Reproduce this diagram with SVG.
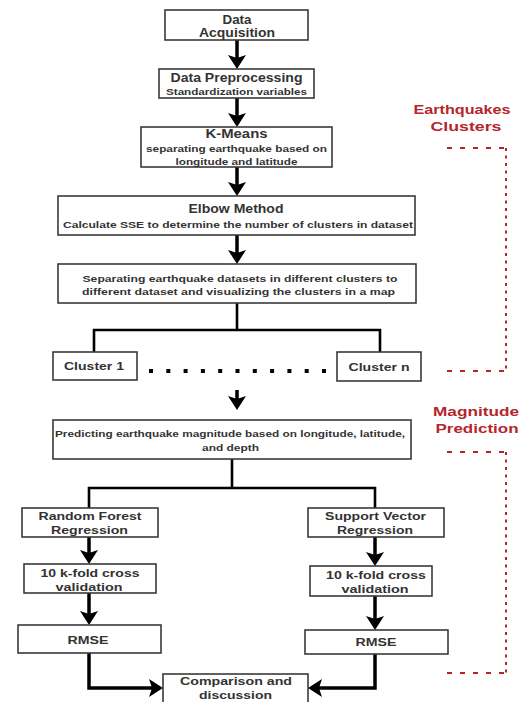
<svg xmlns="http://www.w3.org/2000/svg" width="527" height="702" viewBox="0 0 527 702">
<style>
.box{fill:#fff;stroke:#3a3a3a;stroke-width:1.6}
.t{font-family:"Liberation Sans",Arial,sans-serif;font-weight:bold;fill:#333;text-anchor:middle}
.h{font-size:12.5px}
.s{font-size:9.5px}
.m{font-size:11.5px}
.red{font-family:"Liberation Sans",Arial,sans-serif;font-weight:bold;fill:#b5262c;text-anchor:middle;font-size:12.5px}
.c{fill:none;stroke:#000;stroke-width:3.5}
.c2{fill:none;stroke:#000;stroke-width:2.6}
.ar{marker-end:url(#ah)}
.rdh{fill:none;stroke:#b5262c;stroke-width:2;stroke-dasharray:5 8}
.rdv{fill:none;stroke:#b5262c;stroke-width:2;stroke-dasharray:3 4.5}
</style>
<defs>
<marker id="ah" markerUnits="userSpaceOnUse" viewBox="0 0 14 18" refX="6" refY="9" markerWidth="14" markerHeight="18" orient="auto">
<path d="M0,0 L14,9 L0,18 L3,9 Z" fill="#000"/>
</marker>
</defs>
<g id="connectors">
<line class="c ar" x1="237" y1="40" x2="237" y2="61"/>
<line class="c ar" x1="237" y1="98" x2="237" y2="119"/>
<line class="c ar" x1="237" y1="167" x2="237" y2="188"/>
<line class="c ar" x1="237" y1="235" x2="237" y2="256"/>
<line class="c2" x1="237" y1="303" x2="237" y2="330"/>
<polyline class="c2" points="94,352 94,330 380,330 380,352"/>
<line x1="149" y1="371" x2="327" y2="371" stroke="#000" stroke-width="4" stroke-dasharray="4 13.3"/>
<line class="c ar" x1="237" y1="390" x2="237" y2="402"/>
<line class="c2" x1="232" y1="459" x2="232" y2="488"/>
<polyline class="c2" points="89,508 89,488 375,488 375,508"/>
<line class="c ar" x1="89" y1="537" x2="89" y2="556"/>
<line class="c ar" x1="89" y1="593" x2="89" y2="617"/>
<line class="c ar" x1="375" y1="537" x2="375" y2="558"/>
<line class="c ar" x1="375" y1="596" x2="375" y2="622"/>
<polyline class="c ar" points="89,653 89,688 155,688"/>
<polyline class="c ar" points="375,654 375,688 316,688"/>
</g>
<g id="acq"><rect class="box" x="165" y="10" width="143" height="30"/>
<text class="t h" x="237" y="23.5" textLength="29" lengthAdjust="spacingAndGlyphs">Data</text>
<text class="t h" x="237" y="36.5" textLength="76" lengthAdjust="spacingAndGlyphs">Acquisition</text></g>
<g id="prep"><rect class="box" x="159" y="69" width="155" height="29"/>
<text class="t h" x="236.5" y="82" textLength="132" lengthAdjust="spacingAndGlyphs">Data Preprocessing</text>
<text class="t s" x="236.5" y="95" textLength="141" lengthAdjust="spacingAndGlyphs">Standardization variables</text></g>
<g id="kmeans"><rect class="box" x="141" y="127" width="191" height="40"/>
<text class="t h" x="236.5" y="137.5" textLength="62" lengthAdjust="spacingAndGlyphs">K-Means</text>
<text class="t s" x="236.5" y="152" textLength="181" lengthAdjust="spacingAndGlyphs">separating earthquake based on</text>
<text class="t s" x="236.5" y="164.5" textLength="122" lengthAdjust="spacingAndGlyphs">longitude and latitude</text></g>
<g id="elbow"><rect class="box" x="58" y="196" width="357" height="39"/>
<text class="t h" x="236" y="213" textLength="95" lengthAdjust="spacingAndGlyphs">Elbow Method</text>
<text class="t s" x="238" y="227.5" textLength="350" lengthAdjust="spacingAndGlyphs">Calculate SSE to determine the number of clusters in dataset</text></g>
<g id="separate"><rect class="box" x="58" y="264" width="358" height="39"/>
<text class="t s" x="240" y="281.5" textLength="315" lengthAdjust="spacingAndGlyphs">Separating earthquake datasets in different clusters to</text>
<text class="t s" x="238.5" y="295" textLength="313" lengthAdjust="spacingAndGlyphs">different dataset and visualizing the clusters in a map</text></g>
<g id="cluster1"><rect class="box" x="53" y="352" width="84" height="28"/>
<text class="t m" x="94" y="370" textLength="60" lengthAdjust="spacingAndGlyphs">Cluster 1</text></g>
<g id="clustern"><rect class="box" x="337" y="352" width="84" height="29"/>
<text class="t m" x="379" y="370.5" textLength="61" lengthAdjust="spacingAndGlyphs">Cluster n</text></g>
<g id="predict"><rect class="box" x="53" y="420" width="358" height="39"/>
<text class="t" font-size="9" x="230" y="436.5" textLength="350" lengthAdjust="spacingAndGlyphs">Predicting earthquake magnitude based on longitude, latitude,</text>
<text class="t" font-size="9" x="230.5" y="450.5" textLength="57" lengthAdjust="spacingAndGlyphs">and depth</text></g>
<g id="rf"><rect class="box" x="22" y="508" width="136" height="29"/>
<text class="t m" x="90" y="520" textLength="103" lengthAdjust="spacingAndGlyphs">Random Forest</text>
<text class="t m" x="89.5" y="533.5" textLength="77" lengthAdjust="spacingAndGlyphs">Regression</text></g>
<g id="svr"><rect class="box" x="308" y="508" width="136" height="29"/>
<text class="t m" x="375.5" y="520" textLength="101" lengthAdjust="spacingAndGlyphs">Support Vector</text>
<text class="t m" x="375" y="533.5" textLength="76" lengthAdjust="spacingAndGlyphs">Regression</text></g>
<g id="kfold1"><rect class="box" x="24" y="564" width="132" height="29"/>
<text class="t m" x="90" y="577" textLength="99" lengthAdjust="spacingAndGlyphs">10 k-fold cross</text>
<text class="t m" x="89" y="590.5" textLength="67" lengthAdjust="spacingAndGlyphs">validation</text></g>
<g id="kfold2"><rect class="box" x="310" y="566" width="122" height="30"/>
<text class="t m" x="376" y="579" textLength="100" lengthAdjust="spacingAndGlyphs">10 k-fold cross</text>
<text class="t m" x="375" y="592.5" textLength="67" lengthAdjust="spacingAndGlyphs">validation</text></g>
<g id="rmse1"><rect class="box" x="18" y="625" width="143" height="28"/>
<text class="t m" x="88" y="644" textLength="41" lengthAdjust="spacingAndGlyphs">RMSE</text></g>
<g id="rmse2"><rect class="box" x="305" y="630" width="143" height="24"/>
<text class="t m" x="376" y="646" textLength="41" lengthAdjust="spacingAndGlyphs">RMSE</text></g>
<g id="compare"><rect class="box" x="163" y="674" width="145" height="32"/>
<text class="t m" x="236" y="685" textLength="112" lengthAdjust="spacingAndGlyphs">Comparison and</text>
<text class="t m" x="235.5" y="699" textLength="73" lengthAdjust="spacingAndGlyphs">discussion</text></g>
<g id="eq-clusters">
<text class="red" x="462" y="114" textLength="97" lengthAdjust="spacingAndGlyphs">Earthquakes</text>
<text class="red" x="466" y="130.5" textLength="71" lengthAdjust="spacingAndGlyphs">Clusters</text>
<line class="rdh" x1="447" y1="148" x2="506" y2="148"/>
<line class="rdv" x1="506" y1="148" x2="506" y2="371"/>
<line class="rdh" x1="447" y1="371" x2="506" y2="371"/>
</g>
<g id="mag-prediction">
<text class="red" x="476" y="416" textLength="86" lengthAdjust="spacingAndGlyphs">Magnitude</text>
<text class="red" x="477" y="433" textLength="83" lengthAdjust="spacingAndGlyphs">Prediction</text>
<line class="rdh" x1="447" y1="452" x2="506" y2="452"/>
<line class="rdv" x1="506" y1="452" x2="506" y2="673"/>
<line class="rdh" x1="447" y1="673" x2="506" y2="673"/>
</g>
</svg>
